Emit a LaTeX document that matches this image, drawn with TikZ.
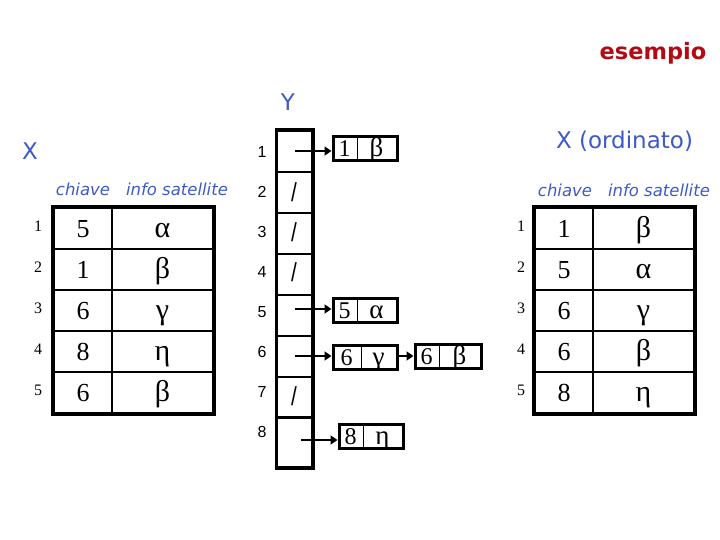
\documentclass[tikz,border=0pt]{standalone}
\usepackage{fontspec}
\setmainfont{Liberation Serif}
\newfontfamily\sansf{Liberation Sans}
\newfontfamily\comic{DejaVu Sans}
\usetikzlibrary{arrows.meta}
\definecolor{lblue}{RGB}{60,90,200}
\definecolor{dred}{RGB}{180,10,20}
\newcommand\gkbig[1]{{\fontsize{30}{32}\selectfont #1}}
\newcommand\gkbox[1]{{\fontsize{27}{29}\selectfont #1}}
\begin{document}
\begin{tikzpicture}[x=1pt,y=-1pt,
  keycell/.style={draw,line width=2pt,minimum width=58pt,minimum height=41pt,inner sep=0pt,text height=18pt,text depth=0pt,font=\fontsize{26}{28}\selectfont},
  infocell/.style={draw,line width=2pt,minimum width=101pt,minimum height=41pt,inner sep=0pt,text height=18pt,text depth=0pt,font=\fontsize{26}{28}\selectfont},
  arrcell/.style={draw,line width=2pt,minimum width=35pt,minimum height=41pt,inner sep=0pt},
  rbox/.style={draw,line width=3pt,minimum height=24pt,inner sep=0pt},
  boxtxt/.style={inner sep=0pt,text height=16pt,text depth=0pt,font=\fontsize{24}{26}\selectfont},
  tidx/.style={inner sep=0pt,font=\fontsize{16}{18}\selectfont},
  aidx/.style={inner sep=0pt,font=\sansf\fontsize{16}{18}\selectfont},
  slashtxt/.style={inner sep=0pt,font=\sansf\fontsize{26}{28}\selectfont,xscale=0.8},
  bluetxt/.style={inner sep=0pt,text=lblue,font=\comic\fontsize{23}{25}\selectfont},
  headtxt/.style={inner sep=0pt,text=lblue,font=\comic\itshape\fontsize{16.5}{18}\selectfont},
  arr/.style={line width=2.5pt,-{Triangle[length=7pt,width=9pt]}}
]
\useasboundingbox (0,0) rectangle (720,540);

% titles
\node[inner sep=0pt,anchor=base,text=dred,font=\comic\bfseries\fontsize{22.5}{24}\selectfont] (title) at (653,60) {esempio};
\node[bluetxt] (ylab) at (288,102) {Y};
\node[bluetxt] (xlab) at (30,151) {X};
\node[bluetxt] (xolab) at (624.5,141) {X (ordinato)};

% left table
\node[headtxt] (lh1) at (83,189) {chiave};
\node[headtxt] (lh2) at (177,189) {info satellite};
\foreach \i/\k/\v in {1/5/α,2/1/β,3/6/γ,4/8/η,5/6/β}{
  \node[keycell] (lk\i) at (83,{208+41*(\i-0.5)}) {\k};
  \node[infocell] (li\i) at (162.5,{208+41*(\i-0.5)}) {\gkbig{\v}};
  \node[tidx] (ln\i) at (38,{206+41*(\i-0.5)}) {\i};
}
\draw[line width=3.5pt] (lk1.north west) rectangle (li5.south east);

% right table
\node[headtxt] (rh1) at (565,190) {chiave};
\node[headtxt] (rh2) at (659,190) {info satellite};
\foreach \i/\k/\v in {1/1/β,2/5/α,3/6/γ,4/6/β,5/8/η}{
  \node[keycell] (rk\i) at (564,{208+41*(\i-0.5)}) {\k};
  \node[infocell] (ri\i) at (643.5,{208+41*(\i-0.5)}) {\gkbig{\v}};
  \node[tidx] (rn\i) at (521,{206+41*(\i-0.5)}) {\i};
}
\draw[line width=3.5pt] (rk1.north west) rectangle (ri5.south east);

% array Y
\foreach \i in {1,...,7}{
  \node[arrcell] (a\i) at (294.5,{131+41*(\i-0.5)}) {};
}
\node[arrcell,minimum height=50pt] (a8) at (294.5,442) {};
\draw[line width=3pt] (a1.north west) rectangle (a8.south east);
\foreach \i in {1,...,8}{
  \node[aidx] (an\i) at (262,{152+40*(\i-1)}) {\i};
}
\node[slashtxt] (sl2) at (294,192) {/};
\node[slashtxt] (sl3) at (294,232) {/};
\node[slashtxt] (sl4) at (294,272) {/};
\node[slashtxt] (sl7) at (294,396) {/};

% record boxes
\node[rbox,minimum width=64pt] (b1) at (365,149) {};
\draw[line width=1pt] ([xshift=26pt]b1.north west) -- ([xshift=26pt]b1.south west);
\node[boxtxt] (b1k) at ([xshift=13pt]b1.west) {1};
\node[boxtxt] (b1v) at ([xshift=45pt]b1.west) {\gkbox{β}};

\node[rbox,minimum width=64pt] (b5) at (365,310) {};
\draw[line width=1pt] ([xshift=26pt]b5.north west) -- ([xshift=26pt]b5.south west);
\node[boxtxt] (b5k) at ([xshift=13pt]b5.west) {5};
\node[boxtxt] (b5v) at ([xshift=45pt]b5.west) {\gkbox{α}};

\node[rbox,minimum width=64pt] (b6) at (365,357) {};
\draw[line width=1pt] ([xshift=30pt]b6.north west) -- ([xshift=30pt]b6.south west);
\node[boxtxt] (b6k) at ([xshift=15pt]b6.west) {6};
\node[boxtxt] (b6v) at ([xshift=47pt]b6.west) {\gkbox{γ}};

\node[rbox,minimum width=66pt] (b6b) at (448,356) {};
\draw[line width=1pt] ([xshift=26pt]b6b.north west) -- ([xshift=26pt]b6b.south west);
\node[boxtxt] (b6bk) at ([xshift=13pt]b6b.west) {6};
\node[boxtxt] (b6bv) at ([xshift=46pt]b6b.west) {\gkbox{β}};

\node[rbox,minimum width=64pt] (b8) at (371,436.5) {};
\draw[line width=1pt] ([xshift=26pt]b8.north west) -- ([xshift=26pt]b8.south west);
\node[boxtxt] (b8k) at ([xshift=13pt]b8.west) {8};
\node[boxtxt] (b8v) at ([xshift=45pt]b8.west) {\gkbox{η}};

% pointers
\coordinate (s1) at (295,151);
\coordinate (s5) at (295,309);
\coordinate (s6) at (295,356);
\coordinate (s8) at (301,440);
\draw[arr] (s1) -- (s1 -| b1.west);
\draw[arr] (s5) -- (s5 -| b5.west);
\draw[arr] (s6) -- (s6 -| b6.west);
\draw[arr] (s8) -- (s8 -| b8.west);
\draw[arr] (b6.east |- s6) -- (s6 -| b6b.west);
\end{tikzpicture}
\end{document}
